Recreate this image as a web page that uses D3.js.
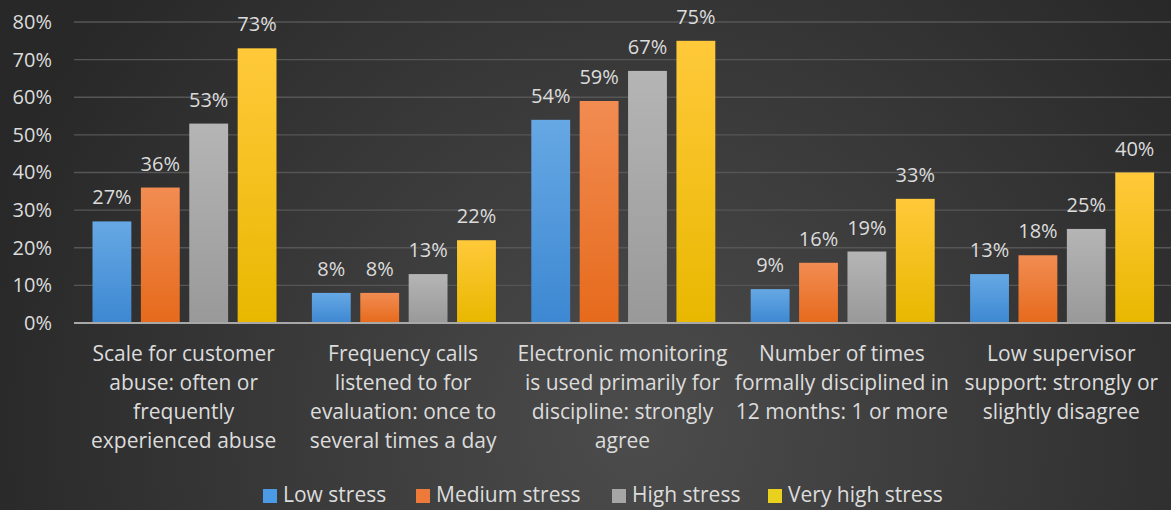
<!DOCTYPE html>
<html><head><meta charset="utf-8">
<script src="https://cdn.jsdelivr.net/npm/d3@7"></script>
<style>html,body{margin:0;padding:0;background:#333;}svg{display:block;}</style>
</head><body>
<script>
const categories = [
  ["Scale for customer","abuse: often or","frequently","experienced abuse"],
  ["Frequency calls","listened to for","evaluation: once to","several times a day"],
  ["Electronic monitoring","is used primarily for","discipline: strongly","agree"],
  ["Number of times","formally disciplined in","12 months: 1 or more"],
  ["Low supervisor","support: strongly or","slightly disagree"]
];
const seriesNames = ["Low stress","Medium stress","High stress","Very high stress"];
const lowStress = [27, 8, 54, 9, 13];
const mediumStress = [36, 8, 59, 16, 18];
const highStress = [53, 13, 67, 19, 25];
const veryHighStress = [73, 22, 75, 33, 40];
const yTicks = [0,10,20,30,40,50,60,70,80];

(function(){
const W = 1171, H = 510;
const seriesVals = [lowStress, mediumStress, highStress, veryHighStress];
const colorsTop = ["#66a8e4","#f28c52","#b5b5b5","#ffc93a"];
const colorsBot = ["#3d88d2","#e66a1c","#999999","#e8b800"];
const legendColors = ["#4a9ae6","#ee7a3a","#a6a6a6","#e8d21e"];

const svg = d3.select("body").append("svg").attr("width",W).attr("height",H);
const defs = svg.append("defs");
const bg = defs.append("radialGradient").attr("id","bg").attr("gradientUnits","userSpaceOnUse")
  .attr("cx",640).attr("cy",430).attr("r",680);
bg.append("stop").attr("offset","0").attr("stop-color","#4c4c4c");
bg.append("stop").attr("offset","0.5").attr("stop-color","#3a3a3a");
bg.append("stop").attr("offset","1").attr("stop-color","#282828");
svg.append("rect").attr("width",W).attr("height",H).attr("fill","url(#bg)");

seriesNames.forEach((s,i)=>{
  const g = defs.append("linearGradient").attr("id","g"+i).attr("x1","0").attr("y1","0").attr("x2","0").attr("y2","1");
  g.append("stop").attr("offset","0").attr("stop-color",colorsTop[i]);
  g.append("stop").attr("offset","1").attr("stop-color",colorsBot[i]);
});

const pL = 74, pR = 1171, pT = 22, pB = 323;
const y = d3.scaleLinear().domain([0,80]).range([pB, pT]);
const x0 = d3.scaleBand().domain(d3.range(categories.length)).range([pL, pR]).padding(0);
const x1 = d3.scaleBand().domain(d3.range(seriesNames.length)).range([18.5, 202.5]).paddingInner(0.197).paddingOuter(0);

const font = "'Open Sans', Lato, sans-serif";
const txt = "#dcdcdc";

svg.append("g").selectAll("line").data(yTicks.filter(t=>t>0)).join("line")
  .attr("x1",pL).attr("x2",pR).attr("y1",d=>y(d)).attr("y2",d=>y(d))
  .attr("stroke","#565656").attr("stroke-width",1.3);

const yAxis = svg.append("g").attr("transform",`translate(${pL},0)`)
  .call(d3.axisLeft(y).tickValues(yTicks).tickFormat(d=>d+"%").tickSize(0).tickPadding(22));
yAxis.select(".domain").remove();
yAxis.selectAll("text").attr("fill",txt).style("font-family",font).style("font-size","20px");

const groups = svg.append("g").selectAll("g").data(categories).join("g")
  .attr("transform",(d,i)=>`translate(${x0(i)},0)`);
groups.each(function(c,ci){
  const g = d3.select(this);
  seriesNames.forEach((s,si)=>{
    const v = seriesVals[si][ci];
    g.append("rect").attr("x",x1(si)).attr("y",y(v)).attr("width",x1.bandwidth()).attr("height",y(0)-y(v))
      .attr("fill",`url(#g${si})`);
    g.append("text").attr("x",x1(si)+x1.bandwidth()/2).attr("y",y(v)-17)
      .attr("text-anchor","middle").attr("fill",txt).style("font-family",font).style("font-size","20px")
      .text(v+"%");
  });
  const t = g.append("text").attr("text-anchor","middle").attr("fill",txt)
    .style("font-family",font).style("font-size","21px");
  c.forEach((line,li)=>{
    t.append("tspan").attr("x",x0.bandwidth()/2).attr("y",361+li*29).text(line);
  });
});

svg.append("line").attr("x1",pL).attr("x2",pR).attr("y1",y(0)).attr("y2",y(0))
  .attr("stroke","#a8a8a8").attr("stroke-width",2.2);

const legX = [263, 416, 612, 768];
const leg = svg.append("g");
seriesNames.forEach((s,i)=>{
  leg.append("rect").attr("x",legX[i]).attr("y",489).attr("width",14).attr("height",14).attr("fill",legendColors[i]);
  leg.append("text").attr("x",legX[i]+20).attr("y",502).attr("fill",txt)
    .style("font-family",font).style("font-size","21px").text(s);
});
})();
</script>
</body></html>
